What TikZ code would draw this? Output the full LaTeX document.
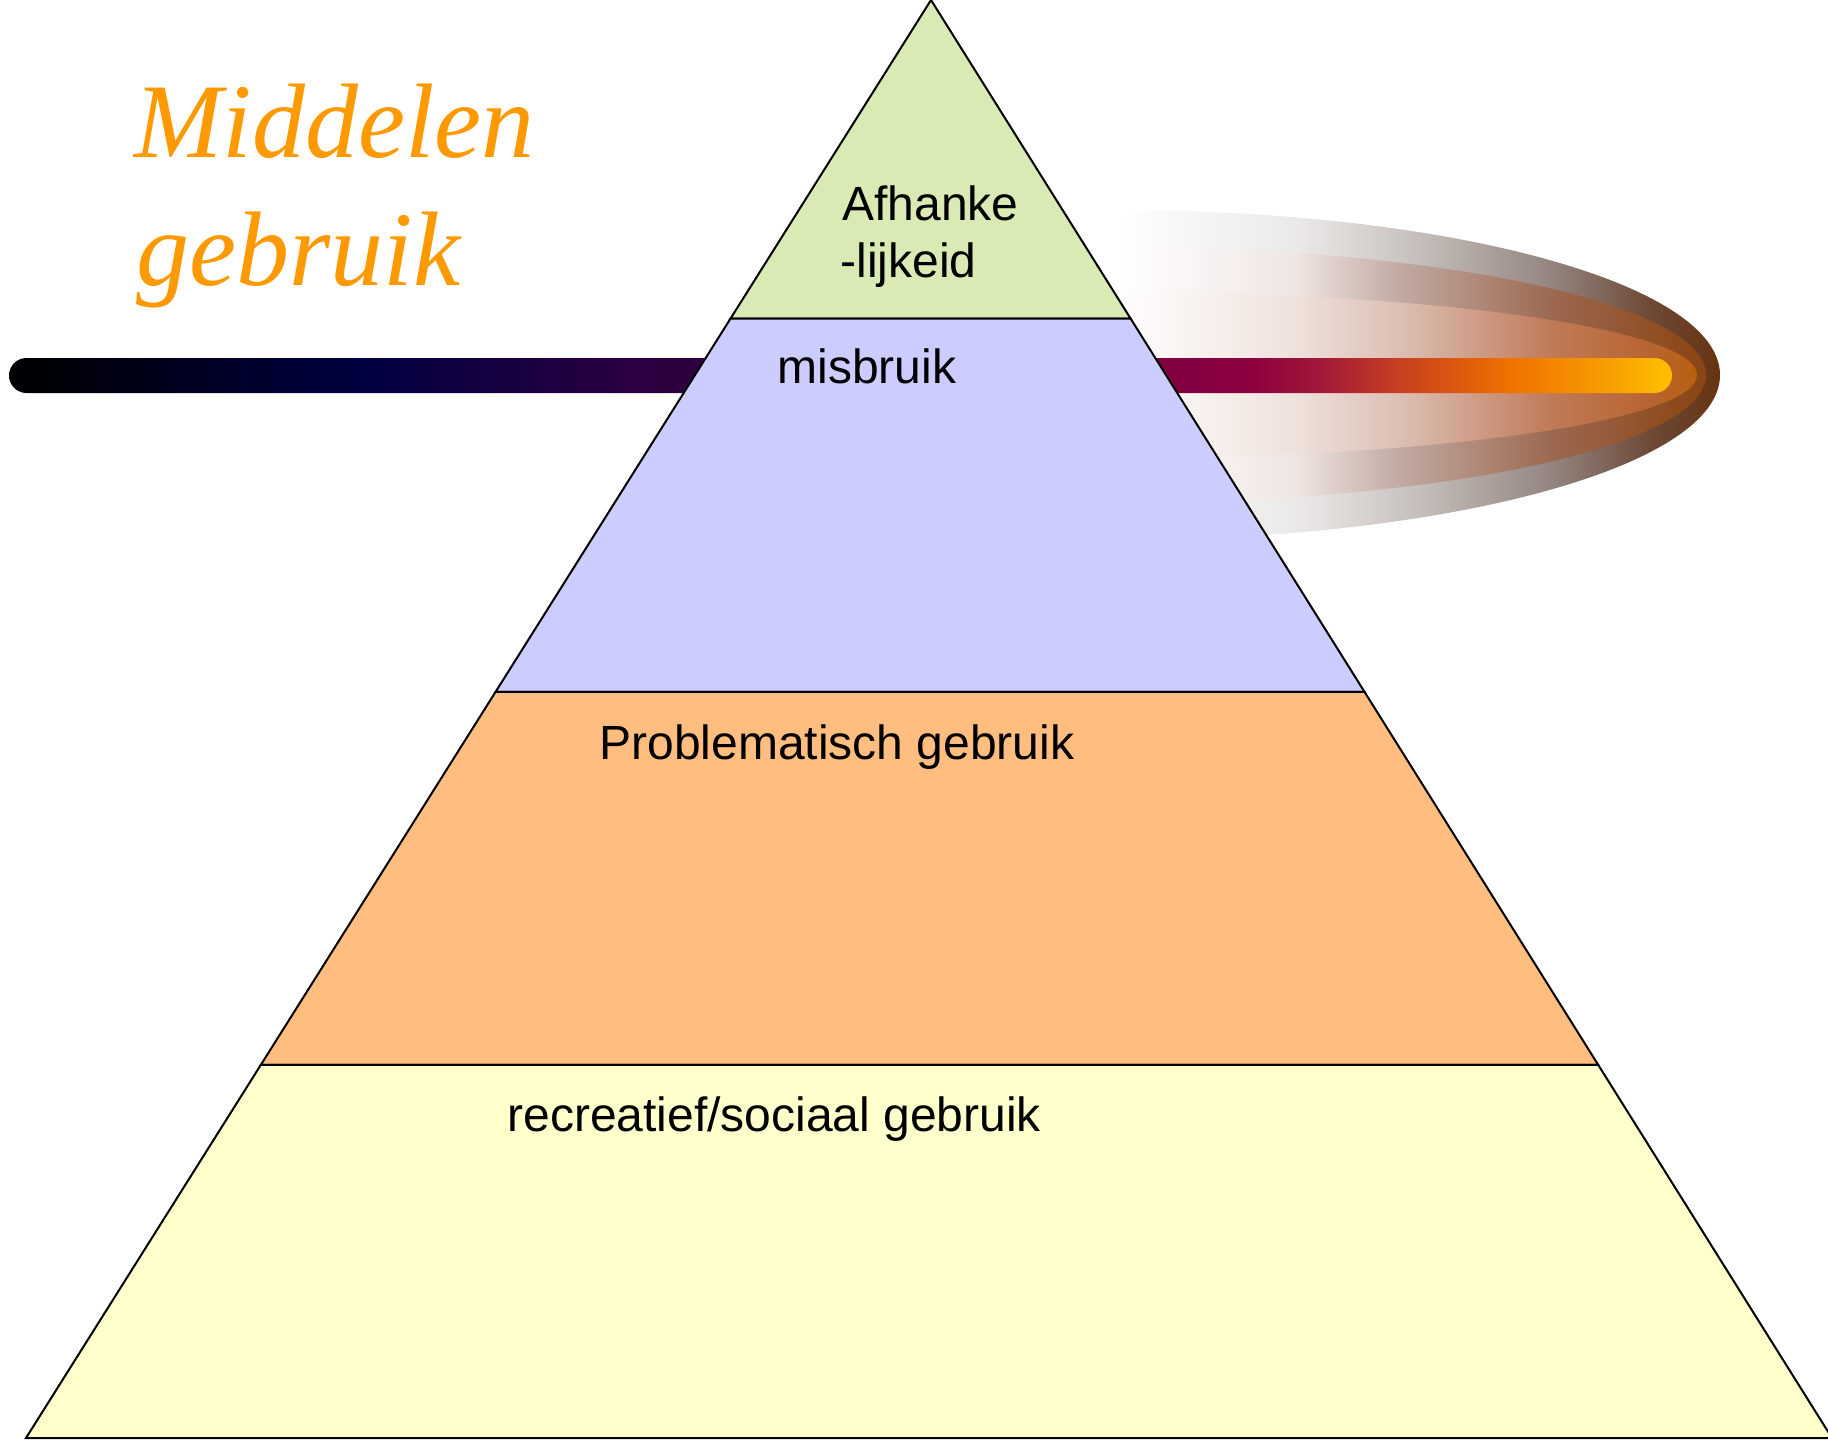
\documentclass[tikz,border=0pt]{standalone}
\usepackage{fontspec}
\setmainfont{Liberation Serif}
\setsansfont{Liberation Sans}
\usetikzlibrary{calc}

\definecolor{groen}{HTML}{D9EAB4}
\definecolor{lila}{HTML}{CCCCFF}
\definecolor{oranje}{HTML}{FFBE80}
\definecolor{geel}{HTML}{FFFFCC}
\definecolor{titeloranje}{HTML}{FF9900}

% kleuren van de balk
\definecolor{b1}{HTML}{000040}
\definecolor{b2}{HTML}{2A0040}
\definecolor{b3}{HTML}{300040}
\definecolor{b4}{HTML}{800040}
\definecolor{b5}{HTML}{8C0040}
\definecolor{b6}{HTML}{A01838}
\definecolor{b7}{HTML}{C84020}
\definecolor{b8}{HTML}{DA5510}
\definecolor{b9}{HTML}{F07000}
\definecolor{b10}{HTML}{F48800}
\definecolor{b11}{HTML}{F8A400}
\definecolor{b12}{HTML}{FFC000}
\pgfdeclarehorizontalshading{balk}{100bp}{color(0bp)=(black); color(25bp)=(black);
  color(35.4bp)=(b1); color(43.7bp)=(b2); color(45.8bp)=(b3); color(59.8bp)=(b4);
  color(62.3bp)=(b5); color(64.4bp)=(b6); color(66.8bp)=(b7); color(68.3bp)=(b8);
  color(70.1bp)=(b9); color(71.6bp)=(b10); color(73.4bp)=(b11); color(75bp)=(b12);
  color(100bp)=(b12)}

% kleuren van de gloed
\definecolor{u1}{HTML}{EBE9E8}
\definecolor{u2}{HTML}{CCC6C3}
\definecolor{u3}{HTML}{948580}
\definecolor{u4}{HTML}{6E4A38}
\definecolor{u5}{HTML}{663311}
\definecolor{m1}{HTML}{EFE6E3}
\definecolor{m2}{HTML}{C2AAA2}
\definecolor{m3}{HTML}{9C6850}
\definecolor{m4}{HTML}{8E4A1C}
\definecolor{m5}{HTML}{8B4513}
\definecolor{i1}{HTML}{EFE2DD}
\definecolor{i2}{HTML}{DBBFB3}
\definecolor{i3}{HTML}{C07A58}
\definecolor{i4}{HTML}{B86430}
\definecolor{i5}{HTML}{B8600E}
\pgfdeclarehorizontalshading{gloedbuiten}{100bp}{color(0bp)=(white); color(50bp)=(white);
  color(57.5bp)=(u1); color(61.75bp)=(u2); color(68bp)=(u3); color(72bp)=(u4);
  color(75bp)=(u5); color(100bp)=(u5)}
\pgfdeclarehorizontalshading{gloedmidden}{100bp}{color(0bp)=(white); color(50bp)=(white);
  color(57.5bp)=(m1); color(62bp)=(m2); color(68.5bp)=(m3); color(73.75bp)=(m4);
  color(75bp)=(m5); color(100bp)=(m5)}
\pgfdeclarehorizontalshading{gloedbinnen}{100bp}{color(0bp)=(white); color(50bp)=(white);
  color(57.5bp)=(i1); color(62.25bp)=(i2); color(68.75bp)=(i3); color(73bp)=(i4);
  color(75bp)=(i5); color(100bp)=(i5)}

\begin{document}
\begin{tikzpicture}[x=0.5pt,y=-0.5pt,
    laag/.style={draw=black,line width=1pt},
    tekst/.style={anchor=base west,inner sep=0pt,font=\sffamily\fontsize{24}{29}\selectfont},
    titel/.style={anchor=base west,inner sep=0pt,text=titeloranje,font=\itshape\fontsize{53}{64}\selectfont}]

    \useasboundingbox (0,0) rectangle (1828,1440);

    % gloed en balk
    \shade[shading=gloedbuiten] (1117,375) ellipse (603 and 165);
    \shade[shading=gloedmidden] (1117,375) ellipse (589 and 128);
    \shade[shading=gloedbinnen] (1117,375) ellipse (580 and 83);
    \shade[shading=balk,rounded corners=8.75pt] (9,358) rectangle (1672,393);

    % piramide
    \coordinate (top) at (931,0);
    \coordinate (lo) at (26,1438);
    \coordinate (ro) at (1832,1438);
    \filldraw[laag,fill=groen] (top) -- ($(top)!0.2216!(lo)$) -- ($(top)!0.2216!(ro)$) -- cycle;
    \foreach \a/\b/\kleur in {0.2216/0.4812/lila,0.4812/0.7406/oranje,0.7406/1/geel}
        \filldraw[laag,fill=\kleur] ($(top)!\a!(lo)$) -- ($(top)!\b!(lo)$) -- ($(top)!\b!(ro)$) -- ($(top)!\a!(ro)$) -- cycle;

    \node[tekst] (afh) at (842,220) {Afhanke};
    \node[tekst] (lijk) at (840,277) {-lijkeid};
    \node[tekst] (mis) at (777,383) {misbruik};
    \node[tekst] (prob) at (599,759) {Problematisch gebruik};
    \node[tekst] (recr) at (507,1131) {recreatief/sociaal gebruik};

    \node[titel] (titel1) at (134,157) {Middelen};
    \node[titel] (titel2) at (136,285) {gebruik};
\end{tikzpicture}
\end{document}
